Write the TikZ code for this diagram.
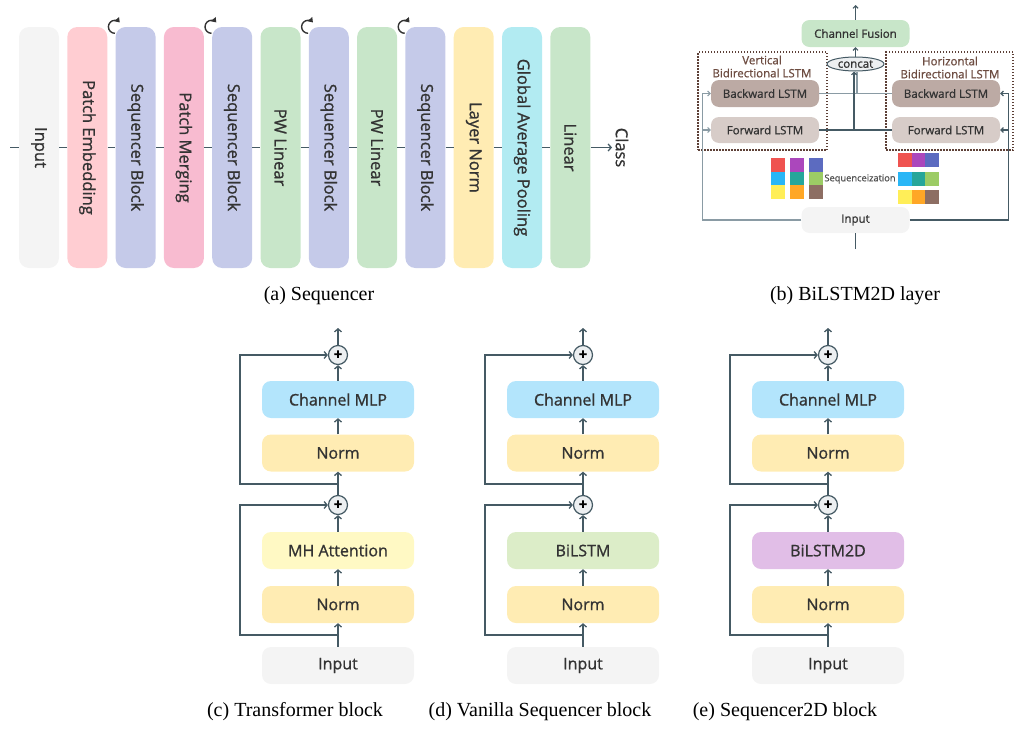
\documentclass[tikz,border=0pt]{standalone}
\usepackage{fontspec}
\usepackage{graphicx}
\setmainfont{Liberation Serif}
\newfontfamily\diagfont[FakeBold=1]{Open Sans}
\usetikzlibrary{arrows.meta,shapes.geometric}

\definecolor{cin}{HTML}{F4F4F4}
\definecolor{cpe}{HTML}{FFCDD2}
\definecolor{cseq}{HTML}{C5CAE9}
\definecolor{cpm}{HTML}{F8BBD0}
\definecolor{cpw}{HTML}{C8E6C9}
\definecolor{cln}{HTML}{FFECB3}
\definecolor{cgap}{HTML}{B2EBF2}
\definecolor{cmlp}{HTML}{B3E5FC}
\definecolor{cmh}{HTML}{FFF9C4}
\definecolor{cbil}{HTML}{DCEDC8}
\definecolor{cbiltwo}{HTML}{E1BEE7}
\definecolor{cbw}{HTML}{BCAAA4}
\definecolor{cfw}{HTML}{D7CCC8}
\definecolor{lnc}{HTML}{455A64}
\definecolor{lnlight}{HTML}{8A9BA4}
\definecolor{grpc}{HTML}{5D4037}
\definecolor{glabc}{HTML}{6D4C41}
\definecolor{opfill}{HTML}{ECEFF1}
\definecolor{txt}{HTML}{333333}
\definecolor{sqr}{HTML}{EF5350}
\definecolor{sqp}{HTML}{AB47BC}
\definecolor{sqi}{HTML}{5C6BC0}
\definecolor{sqb}{HTML}{29B6F6}
\definecolor{sqt}{HTML}{26A69A}
\definecolor{sqg}{HTML}{9CCC65}
\definecolor{sqy}{HTML}{FFEE58}
\definecolor{sqo}{HTML}{FFA726}
\definecolor{sqw}{HTML}{8D6E63}

\tikzset{
  bar/.style={rounded corners=10pt, minimum width=40pt, minimum height=241pt, inner sep=0pt,
    text=txt, font=\diagfont\fontsize{16.5}{20}\selectfont},
  blk/.style={rounded corners=9pt, minimum width=152pt, minimum height=37pt, inner sep=0pt,
    text=txt, font=\diagfont\fontsize{16}{19}\selectfont},
  sbox/.style={rounded corners=8pt, minimum width=108pt, minimum height=27pt, inner sep=0pt,
    text=txt, font=\diagfont\fontsize{11.5}{13}\selectfont},
  ln/.style={draw=lnc, line width=1.3pt},
  arr/.style={ln, -{Straight Barb[length=3pt,width=7pt]}},
  sarr/.style={line width=1.1pt, -{Straight Barb[length=2.5pt,width=5pt]}},
  addop/.style={circle, draw=lnc, line width=1.2pt, fill=opfill, minimum size=19pt, inner sep=0pt,
    font=\diagfont\bfseries\fontsize{15}{15}\selectfont},
  grp/.style={draw=grpc, line width=1.1pt, dash pattern=on 1.5pt off 1.5pt, inner sep=0pt},
  glab/.style={align=center, text=glabc, font=\diagfont\fontsize{11.5}{13}\selectfont},
  captext/.style={font=\fontsize{20}{24}\selectfont},
}

\begin{document}
\begin{tikzpicture}[x=1pt, y=-1pt]
  \useasboundingbox (0,0) rectangle (1025,731);

  % (a) Sequencer
  \foreach \i/\lab/\col in {0/Input/cin, 1/Patch Embedding/cpe, 2/Sequencer Block/cseq,
      3/Patch Merging/cpm, 4/Sequencer Block/cseq, 5/PW Linear/cpw, 6/Sequencer Block/cseq,
      7/PW Linear/cpw, 8/Sequencer Block/cseq, 9/Layer Norm/cln, 10/Global Average Pooling/cgap,
      11/Linear/cpw}
    \node[bar, fill=\col] (a\i) at (39+48.3*\i, 147.5) {\rotatebox{-90}{\lab}};
  \coordinate (astart) at (10,147.5);
  \coordinate (aend) at (612,147.5);
  \draw[ln] (astart) -- (a0.west);
  \foreach \i [count=\j from 1] in {0,...,10}
    \draw[ln] (a\i.east) -- (a\j.west);
  \draw[arr] (a11.east) -- (aend);
  \node[text=txt, font=\diagfont\fontsize{16.5}{20}\selectfont] (acls) at (622,147.5) {\rotatebox{-90}{Class}};
  \foreach \i in {2,4,6,8}
    \draw[draw=txt, line width=1.4pt, -{Triangle[length=4.5pt,width=6pt]}]
      ([shift={(-0.5,0)}]a\i.north west) ++(90:6.5) arc[start angle=90, end angle=318, radius=6.5];
  \node[captext] (capa) at (319,296) {(a) Sequencer};

  % (b) BiLSTM2D layer
  \node[grp, minimum width=129pt, minimum height=98pt] (vgrp) at (762.5,101) {};
  \node[grp, minimum width=127pt, minimum height=98pt] (hgrp) at (949.5,101) {};
  \node[glab] (vlab) at (762,66.5) {Vertical\\Bidirectional LSTM};
  \node[glab] (hlab) at (950,67.5) {Horizontal\\Bidirectional LSTM};
  \node[sbox, fill=cpw] (cf) at (855.5,33.5) {Channel Fusion};
  \node[ellipse, draw=lnc, line width=1pt, fill=opfill, minimum width=57pt, minimum height=14pt,
    inner sep=0pt, text=txt, font=\diagfont\fontsize{11.5}{13}\selectfont] (cc) at (855.5,64) {concat};
  \node[sbox, fill=cbw] (bwv) at (765,93.5) {Backward LSTM};
  \node[sbox, fill=cfw, minimum height=26pt] (fwv) at (765,130) {Forward LSTM};
  \node[sbox, fill=cbw] (bwh) at (946,93.5) {Backward LSTM};
  \node[sbox, fill=cfw, minimum height=26pt] (fwh) at (946,130) {Forward LSTM};
  \node[sbox, fill=cin, minimum height=26pt] (inb) at (855.5,220) {Input};
  \coordinate (bin) at (855.5,249);
  \coordinate (bout) at (855.5,5);
  \draw[ln] (bin) -- (inb.south);
  \draw[arr, sarr] (cf.north) -- (bout);
  \draw[arr, sarr] (cc.north) -- (cf.south);
  \draw[arr, sarr, draw=lnlight] (inb.west) -| ([xshift=-8pt]bwv.west) -- (bwv.west);
  \draw[arr, sarr, draw=lnlight] ([xshift=-8pt]fwv.west) -- (fwv.west);
  \draw[arr, sarr] (inb.east) -| ([xshift=8pt]bwh.east) -- (bwh.east);
  \draw[arr, sarr] ([xshift=8pt]fwh.east) -- (fwh.east);
  \draw[ln, line width=1.1pt, draw=lnlight] (bwv.east) -- (bwh.west);
  \draw[ln, line width=1.1pt] (fwv.east) -- (fwh.west);
  \coordinate (ccl) at ([xshift=-1.5pt]cc.south);
  \coordinate (ccr) at ([xshift=1.5pt]cc.south);
  \draw[ln, line width=1.1pt, draw=lnlight] (ccr |- bwv.east) -- (ccr);
  \draw[arr, sarr] (ccl |- fwv.east) -- (ccl);
  % sequenceization grids
  \foreach \r/\ca/\cb/\cc in {0/sqr/sqp/sqi, 1/sqb/sqt/sqg, 2/sqy/sqo/sqw}
    \foreach \c/\col in {0/\ca, 1/\cb, 2/\cc} {
      \fill[\col] (771+19*\c, 158+13.7*\r) rectangle ++(14,13.7);
      \fill[\col] (898+13.7*\c, 153+18.5*\r) rectangle ++(13.7,14);
    }
  \node[text=txt!85, font=\diagfont\fontsize{9.3}{10}\selectfont] (seqz) at (860,179) {Sequenceization};
  \node[captext] (capb) at (855,296) {(b) BiLSTM2D layer};

  % (c)-(e) blocks
  \foreach \p/\dx/\lab/\col/\capt in {c/0/MH Attention/cmh/{(c) Transformer block},
      d/245/BiLSTM/cbil/{(d) Vanilla Sequencer block}, e/490/BiLSTM2D/cbiltwo/{(e) Sequencer2D block}} {
    \node[blk, fill=cin] (\p in) at (338+\dx,665.5) {Input};
    \node[blk, fill=cln] (\p n1) at (338+\dx,604.5) {Norm};
    \node[blk, fill=\col] (\p mix) at (338+\dx,550.5) {\lab};
    \node[addop] (\p add1) at (338+\dx,505) {+};
    \node[blk, fill=cln] (\p n2) at (338+\dx,453) {Norm};
    \node[blk, fill=cmlp] (\p mlp) at (338+\dx,399.5) {Channel MLP};
    \node[addop] (\p add2) at (338+\dx,355) {+};
    \coordinate (\p out) at (338+\dx,328);
    \coordinate (\p j1) at (338+\dx,635);
    \coordinate (\p j2) at (338+\dx,484);
    \draw[arr] (\p in.north) -- (\p n1.south);
    \draw[arr] (\p n1) -- (\p mix);
    \draw[arr] (\p mix) -- (\p add1);
    \draw[arr] (\p add1) -- (\p n2);
    \draw[arr] (\p n2) -- (\p mlp);
    \draw[arr] (\p mlp) -- (\p add2);
    \draw[arr] (\p add2) -- (\p out);
    \draw[arr] (\p j1) -- ++(-98,0) |- (\p add1.west);
    \draw[arr] (\p j2) -- ++(-98,0) |- (\p add2.west);
    \node[captext] (\p cap) at (295+\dx,712) {\capt};
  }
\end{tikzpicture}
\end{document}
